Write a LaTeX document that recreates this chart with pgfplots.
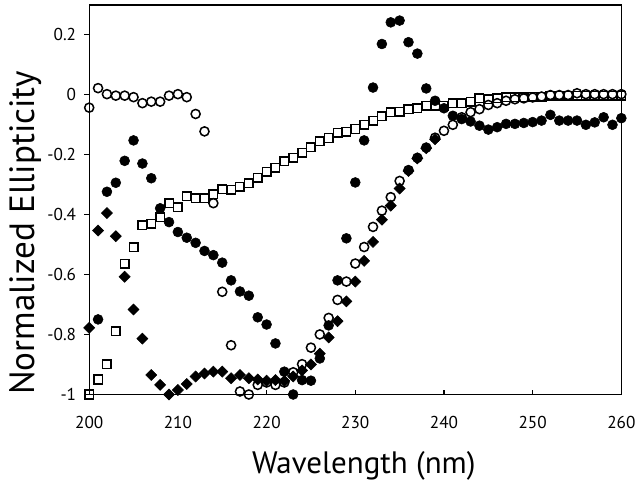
\documentclass[border=0pt]{standalone}
\usepackage{fontspec}
\setmainfont{PT Sans}
\usepackage{pgfplots}
\pgfplotsset{compat=1.18}
\begin{document}
\begin{tikzpicture}
\begin{axis}[
  scale only axis, width=386.6pt, height=283pt,
  xmin=200, xmax=260, ymin=-1, ymax=0.297,
  clip=false,
  xtick={200,210,220,230,240,250,260},
  xticklabels={200,210,220,230,240,250,260},
  ytick={-1,-0.8,-0.6,-0.4,-0.2,0,0.2},
  yticklabels={-1,-0.8,-0.6,-0.4,-0.2,0,0.2},
  xtick pos=bottom, ytick pos=left,
  xtick align=inside, ytick align=outside,
  major tick length=3.5pt,
  tick style={line width=0.8pt, black},
  axis line style={line width=1pt},
  tick label style={font=\fontsize{12.5}{14}\selectfont},
  xticklabel style={yshift=-12pt},
  yticklabel style={xshift=-2.5pt},
  xlabel={Wavelength (nm)},
  ylabel={Normalized Ellipticity},
  xlabel style={font=\fontsize{22.5}{27}\selectfont, at={(rel axis cs:0.516,0)}, anchor=base, yshift=-57.6pt},
  ylabel style={font=\fontsize{25.5}{30}\selectfont, at={(rel axis cs:-0.1035,0.415)}, anchor=base},
]
% squares
\addplot[only marks, mark=square, mark size=3.1pt, line width=1.1pt, mark options={fill=white}] coordinates {
(200,-1.0)(201,-0.95)(202,-0.9)(203,-0.79)(204,-0.565)(205,-0.51)(206,-0.437)(207,-0.432)(208,-0.41)(209,-0.363)
(210,-0.377)(211,-0.34)(212,-0.347)(213,-0.347)(214,-0.333)(215,-0.316)(216,-0.319)(217,-0.308)(218,-0.297)(219,-0.278)
(220,-0.258)(221,-0.245)(222,-0.223)(223,-0.212)(224,-0.195)(225,-0.176)(226,-0.157)(227,-0.146)(228,-0.129)(229,-0.125)
(230,-0.116)(231,-0.102)(232,-0.088)(233,-0.073)(234,-0.06)(235,-0.058)(236,-0.05)(237,-0.047)(238,-0.038)(239,-0.038)
(240,-0.038)(241,-0.03)(242,-0.03)(243,-0.025)(244,-0.014)(245,-0.017)(246,-0.013)(247,-0.011)(248,-0.01)(249,-0.01)
(250,-0.008)(251,-0.008)(252,-0.006)(253,-0.006)(254,-0.006)(255,-0.005)(256,-0.005)(257,-0.005)(258,-0.005)(259,-0.005)(260,-0.005)
};
% diamonds
\addplot[only marks, mark=square*, mark size=2.85pt, mark options={rotate=45, fill=black}] coordinates {
(200,-0.778)(201,-0.454)(202,-0.396)(203,-0.473)(204,-0.608)(205,-0.717)(206,-0.814)(207,-0.935)(208,-0.968)(209,-1.0)
(210,-0.985)(211,-0.965)(212,-0.94)(213,-0.93)(214,-0.924)(215,-0.924)(216,-0.946)(217,-0.935)(218,-0.946)(219,-0.95)
(220,-0.954)(221,-0.952)(222,-0.955)(223,-0.94)(224,-0.92)(225,-0.9)(226,-0.864)(227,-0.81)(228,-0.756)(229,-0.69)
(230,-0.624)(231,-0.555)(232,-0.492)(233,-0.418)(234,-0.371)(235,-0.314)(236,-0.256)(237,-0.214)(238,-0.18)(239,-0.15)
};
% filled circles
\addplot[only marks, mark=*, mark size=3.6pt, mark options={fill=black}] coordinates {
(201,-0.75)(202,-0.325)(203,-0.295)(204,-0.222)(205,-0.154)(206,-0.231)(207,-0.28)(208,-0.38)(209,-0.426)
(210,-0.459)(211,-0.478)(212,-0.495)(213,-0.522)(214,-0.536)(215,-0.561)(216,-0.62)(217,-0.657)(218,-0.671)(219,-0.743)
(220,-0.767)(221,-0.83)(222,-0.924)(223,-1.0)(224,-0.952)(225,-0.954)(226,-0.88)(227,-0.77)(228,-0.62)(229,-0.48)
(230,-0.294)(231,-0.154)(232,0.022)(233,0.167)(234,0.239)(235,0.245)(236,0.173)(237,0.135)(238,0.019)(239,-0.022)
(240,-0.047)(241,-0.072)(242,-0.083)(243,-0.091)(244,-0.105)(245,-0.118)(246,-0.11)(247,-0.099)(248,-0.099)(249,-0.096)
(250,-0.093)(251,-0.088)(252,-0.069)(253,-0.088)(254,-0.088)(255,-0.088)(256,-0.102)(257,-0.094)(258,-0.077)(259,-0.102)(260,-0.08)
};
% open circles
\addplot[only marks, mark=o, mark size=3.3pt, line width=1.1pt, mark options={fill=white}] coordinates {
(200,-0.045)(201,0.02)(202,0.0)(203,-0.005)(204,-0.005)(205,-0.01)(206,-0.03)(207,-0.025)(208,-0.025)(209,-0.005)
(210,0.0)(211,-0.01)(212,-0.066)(213,-0.124)(214,-0.363)(215,-0.658)(216,-0.836)(217,-0.99)(218,-1.0)(219,-0.968)
(220,-0.96)(221,-0.968)(222,-0.96)(223,-0.926)(224,-0.899)(225,-0.844)(226,-0.80)(227,-0.745)(228,-0.685)(229,-0.624)
(230,-0.564)(231,-0.509)(232,-0.442)(233,-0.388)(234,-0.343)(235,-0.289)(236,-0.253)(237,-0.212)(238,-0.178)(239,-0.145)
(240,-0.122)(241,-0.102)(242,-0.077)(243,-0.06)(244,-0.05)(245,-0.036)(246,-0.03)(247,-0.022)(248,-0.017)(249,-0.014)
(250,-0.011)(251,-0.008)(252,-0.003)(253,-0.003)(254,-0.003)(255,0.003)(256,0.0)(257,0.0)(258,0.0)(259,0.0)(260,0.0)
};
\end{axis}
\path ([shift={(-64.8pt,-61.9pt)}]current axis.south west) rectangle ([shift={(9.4pt,3.6pt)}]current axis.north east);
\end{tikzpicture}
\end{document}
